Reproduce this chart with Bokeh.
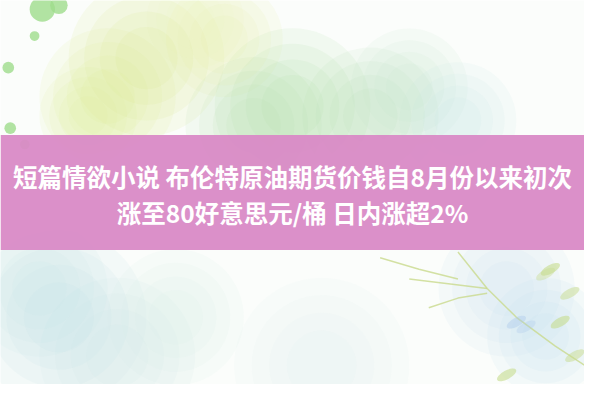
from bokeh.plotting import figure
from bokeh.models import ColumnDataSource
from bokeh.core.properties import value
from bokeh.embed import file_html
from bokeh.resources import INLINE

# headline text, two lines
lines = ["短篇情欲小说 布伦特原油期货价钱自8月份以来初次", "涨至80好意思元/桶 日内涨超2%"]
line_y = [183, 221]

# pink band (image coords, top / bottom)
band_top = 140
band_bottom = 260

# soft watercolour blobs: x, y, radius, colour
blob_x = [150, 110, 230, 300, 380, 420, 260, 470, 60, 120, 40, 520, 560, 330, 180, 90, 200]
blob_y = [60, 100, 40, 110, 120, 90, 130, 125, 330, 370, 300, 300, 350, 380, 330, 120, 20]
blob_r = [80, 70, 60, 80, 70, 60, 70, 60, 90, 80, 70, 70, 60, 90, 70, 50, 50]
blob_c = ["#d9ea86", "#dcec90", "#e8f2a8", "#a9dca8", "#b4e2b6", "#c8e9ca", "#b8e2b0",
          "#c6e6ea", "#bfe2e3", "#cae8e8", "#c3e3e3", "#c4e2ef", "#bddcee", "#dceeee",
          "#d2ebe8", "#e0eda0", "#eef4c4"]

# small green dots, top left
dot_x = [43, 60, 35, 8, 10, 25]
dot_y = [9, 5, 37, 70, 133, 150]
dot_r = [13, 9, 5, 6, 6, 5]

# vine and leaves, bottom right
vine_x = [[470, 500, 530, 570, 600], [420, 460, 500], [440, 470, 500], [390, 430, 470]]
vine_y = [[262, 300, 330, 360, 380], [290, 295, 300], [320, 310, 305], [268, 280, 290]]
leaf_x = [565, 585, 560, 530, 540, 575, 590, 520]
leaf_y = [280, 305, 285, 335, 340, 335, 370, 390]
leaf_c = ["#c7dc8e", "#c7dc8e", "#c7dc8e", "#a9c8ec", "#a9c8ec", "#c7dc8e", "#c7dc8e", "#c7dc8e"]
leaf_a = [0.6, 0.5, 0.4, 0.4, 0.3, 0.6, 0.5, 0.6]

p = figure(width=584, height=384, x_range=(0, 600), y_range=(400, 0),
           output_backend="svg", toolbar_location=None, min_border=0)
p.axis.visible = False
p.grid.visible = False
p.outline_line_color = None
p.background_fill_color = "#fbfdfb"
p.border_fill_color = "#fbfdfb"

# layered circles give a soft, feathered edge
for k in [1.0, 0.8, 0.6, 0.4]:
    p.circle(blob_x, blob_y, radius=[r * k for r in blob_r], fill_color=blob_c,
             fill_alpha=0.12, line_color=None)
p.circle(dot_x, dot_y, radius=dot_r, fill_color="#9fdc8c", fill_alpha=0.8, line_color=None)
p.multi_line(vine_x, vine_y, line_color="#c9d98c", line_width=1.5, line_alpha=0.8)
p.ellipse(leaf_x, leaf_y, width=22, height=9, angle=0.5, fill_color=leaf_c,
          fill_alpha=leaf_a, line_color=None)

p.quad(left=0, right=600, top=band_top, bottom=band_bottom,
       fill_color="#d98ac6", fill_alpha=0.95, line_color=None)

src = ColumnDataSource(dict(x=[300, 300], y=line_y, t=lines))
p.text("x", "y", text="t", source=src, text_align="center", text_baseline="middle",
       text_color="white", text_font=value("Noto Sans CJK SC"),
       text_font_size="24.5px", text_font_style="bold")

open("out.html", "w").write(file_html(p, INLINE))
